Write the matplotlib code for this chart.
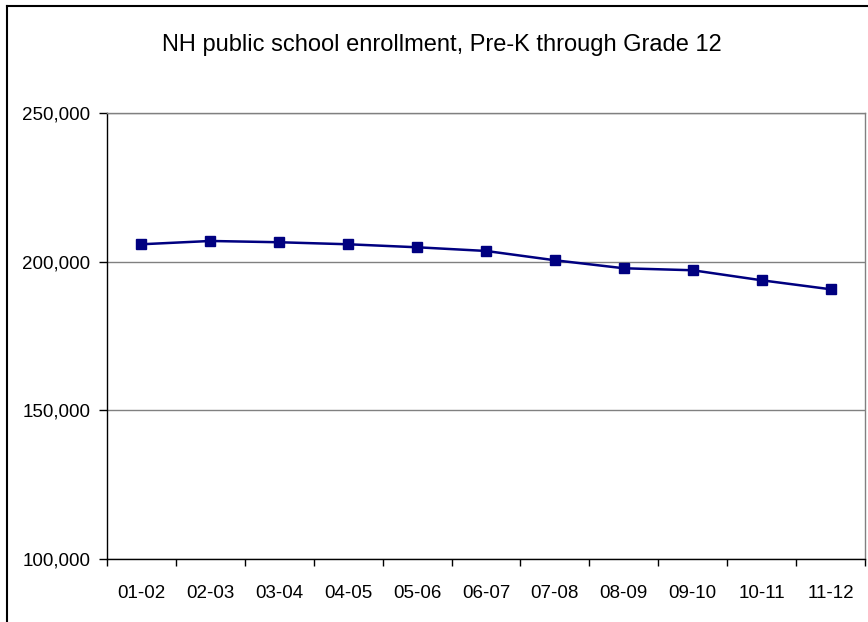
import matplotlib
matplotlib.use("Agg")
import matplotlib.pyplot as plt
from matplotlib.lines import Line2D
from matplotlib.ticker import FuncFormatter, FixedLocator

plt.rcParams["font.family"] = ["Liberation Sans", "DejaVu Sans"]

# school years and enrollment
years = ["01-02", "02-03", "03-04", "04-05", "05-06", "06-07",
         "07-08", "08-09", "09-10", "10-11", "11-12"]
enrollment = [205850, 206960, 206530, 205850, 204840, 203600,
              200470, 197780, 197110, 193740, 190720]
y_ticks = [100000, 150000, 200000, 250000]

W, H = 868, 622
fig = plt.figure(figsize=(W / 100, H / 100), dpi=100)
fig.patch.set_facecolor("white")

# plot area in pixel coords
left, right, top, bottom = 107, 865, 113, 559
ax = fig.add_axes([left / W, 1 - bottom / H, (right - left) / W, (bottom - top) / H])

x = list(range(len(years)))
ax.plot(x, enrollment, color="#000080", lw=1.8, marker="s", ms=7,
        markerfacecolor="#000080", markeredgecolor="#000080", zorder=3)

ax.set_xlim(-0.5, len(years) - 0.5)
ax.set_ylim(y_ticks[0], y_ticks[-1])

ax.set_yticks(y_ticks)
ax.yaxis.set_major_formatter(FuncFormatter(lambda v, p: f"{int(v):,}"))
ax.grid(axis="y", color="#808080", lw=1.0, zorder=1)

ax.set_xticks(x)
ax.set_xticklabels(years)
ax.xaxis.set_minor_locator(FixedLocator([i - 0.5 for i in range(len(years) + 1)]))
ax.tick_params(axis="x", which="major", length=0, pad=19, labelsize=13.5)
ax.tick_params(axis="x", which="minor", length=5, width=1, direction="out", color="black")
ax.tick_params(axis="y", length=6, width=1, direction="out", pad=6, labelsize=13.5)

for s in ("left", "bottom"):
    ax.spines[s].set_color("black")
    ax.spines[s].set_linewidth(1.0)
for s in ("top", "right"):
    ax.spines[s].set_color("#808080")
    ax.spines[s].set_linewidth(1.0)

fig.text(442 / W, 1 - 45.5 / H, "NH public school enrollment, Pre-K through Grade 12",
         ha="center", va="center", fontsize=17)

# outer chart border (top and left visible)
fig.add_artist(Line2D([7 / W, 7 / W], [0, 1 - 5.5 / H], transform=fig.transFigure,
                      color="black", lw=1.5))
fig.add_artist(Line2D([7 / W, 1], [1 - 5.5 / H, 1 - 5.5 / H], transform=fig.transFigure,
                      color="black", lw=1.5))

fig.savefig("out.png", dpi=100)
